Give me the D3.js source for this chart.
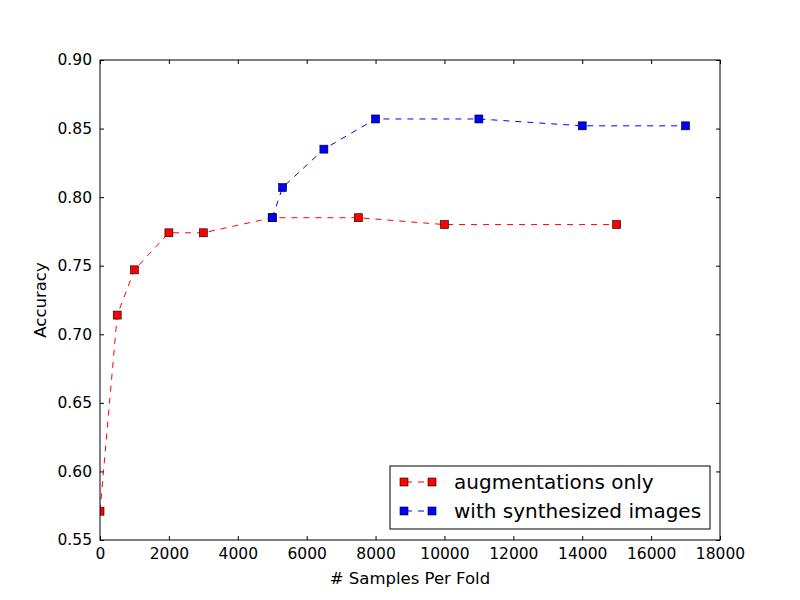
<!DOCTYPE html>
<html>
<head>
<meta charset="utf-8">
<script src="https://cdn.jsdelivr.net/npm/d3@7"></script>
<style>
  body { margin: 0; background: #fff; }
  text { font-family: "DejaVu Sans", sans-serif; fill: #000; }
</style>
</head>
<body>
<svg id="chart" width="800" height="600"></svg>
<script>
// data
var augX = [0, 500, 1000, 2000, 3000, 5000, 7500, 10000, 15000];
var augY = [0.571, 0.714, 0.747, 0.774, 0.774, 0.785, 0.785, 0.780, 0.780];
var synX = [5000, 5300, 6500, 8000, 11000, 14000, 17000];
var synY = [0.785, 0.807, 0.835, 0.857, 0.857, 0.852, 0.852];
var xTicks = [0, 2000, 4000, 6000, 8000, 10000, 12000, 14000, 16000, 18000];
var yTicks = [0.55, 0.60, 0.65, 0.70, 0.75, 0.80, 0.85, 0.90];
var seriesNames = ['augmentations only', 'with synthesized images'];
var seriesColors = ['#ff0000', '#0000ff'];

var svg = d3.select('#chart'),
    margin = { left: 100, top: 60, right: 80, bottom: 60 },
    width = 800 - margin.left - margin.right,
    height = 600 - margin.top - margin.bottom;

var x = d3.scaleLinear().domain([0, 18000]).range([0, width]);
var y = d3.scaleLinear().domain([0.55, 0.90]).range([height, 0]);

var g = svg.append('g').attr('transform', 'translate(' + margin.left + ',' + margin.top + ')');

g.append('clipPath').attr('id', 'clip')
    .append('rect').attr('width', width).attr('height', height);

// ticks inward on all four sides
var tickLen = 4;
g.append('g')
    .attr('transform', 'translate(0,' + height + ')')
    .call(d3.axisBottom(x).tickValues(xTicks).tickSizeInner(-tickLen).tickSizeOuter(0).tickPadding(8).tickFormat(d3.format('d')))
    .call(function(a) { a.select('.domain').remove(); a.selectAll('text').style('font-size', '15.5px'); });
g.append('g')
    .call(d3.axisTop(x).tickValues(xTicks).tickSizeInner(-tickLen).tickSizeOuter(0).tickFormat(''))
    .call(function(a) { a.select('.domain').remove(); });
g.append('g')
    .call(d3.axisLeft(y).tickValues(yTicks).tickSizeInner(-tickLen).tickSizeOuter(0).tickPadding(8).tickFormat(d3.format('.2f')))
    .call(function(a) { a.select('.domain').remove(); a.selectAll('text').style('font-size', '15.5px'); });
g.append('g')
    .attr('transform', 'translate(' + width + ',0)')
    .call(d3.axisRight(y).tickValues(yTicks).tickSizeInner(-tickLen).tickSizeOuter(0).tickFormat(''))
    .call(function(a) { a.select('.domain').remove(); });

var line = d3.line()
    .x(function(d) { return x(d[0]); })
    .y(function(d) { return y(d[1]); });

var series = [d3.zip(augX, augY), d3.zip(synX, synY)];
var plot = g.append('g').attr('clip-path', 'url(#clip)');

series.forEach(function(pts, i) {
    plot.append('path')
        .datum(pts)
        .attr('d', line)
        .attr('fill', 'none')
        .attr('stroke', seriesColors[i])
        .attr('stroke-width', 1)
        .attr('stroke-dasharray', '6,6');
});

var ms = 8;
series.forEach(function(pts, i) {
    plot.selectAll('.m' + i)
        .data(pts)
        .enter()
        .append('rect')
        .attr('x', function(d) { return x(d[0]) - ms / 2; })
        .attr('y', function(d) { return y(d[1]) - ms / 2; })
        .attr('width', ms)
        .attr('height', ms)
        .attr('fill', seriesColors[i])
        .attr('stroke', '#000')
        .attr('stroke-width', 0.6);
});

// frame
g.append('rect')
    .attr('width', width).attr('height', height)
    .attr('fill', 'none').attr('stroke', '#000').attr('stroke-width', 1);

// axis titles
svg.append('text')
    .attr('x', margin.left + width / 2)
    .attr('y', 584)
    .attr('text-anchor', 'middle')
    .style('font-size', '16.5px')
    .text('# Samples Per Fold');
svg.append('text')
    .attr('transform', 'translate(46,' + (margin.top + height / 2) + ') rotate(-90)')
    .attr('text-anchor', 'middle')
    .style('font-size', '16.5px')
    .text('Accuracy');

// legend
var legend = svg.append('g').attr('transform', 'translate(390,466)');
legend.append('rect')
    .attr('width', 320).attr('height', 63)
    .attr('fill', '#fff').attr('stroke', '#000').attr('stroke-width', 1);

seriesNames.forEach(function(name, i) {
    var row = legend.append('g').attr('transform', 'translate(0,' + (16 + i * 29) + ')');
    row.append('line')
        .attr('x1', 14).attr('x2', 42).attr('y1', 0).attr('y2', 0)
        .attr('stroke', seriesColors[i]).attr('stroke-width', 1)
        .attr('stroke-dasharray', '6,6').attr('stroke-dashoffset', -2);
    [14, 42].forEach(function(cx) {
        row.append('rect')
            .attr('x', cx - ms / 2).attr('y', -ms / 2)
            .attr('width', ms).attr('height', ms)
            .attr('fill', seriesColors[i]).attr('stroke', '#000').attr('stroke-width', 0.6);
    });
    row.append('text')
        .attr('x', 64).attr('y', 0)
        .attr('dy', '0.35em')
        .style('font-size', '20px')
        .text(name);
});
</script>
</body>
</html>
